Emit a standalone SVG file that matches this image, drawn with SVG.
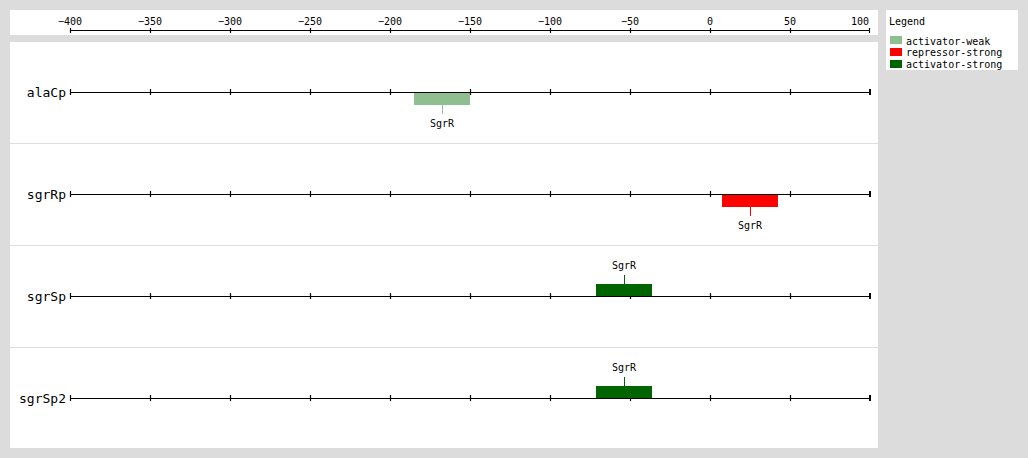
<svg xmlns="http://www.w3.org/2000/svg" width="1028" height="458" viewBox="0 0 1028 458">
<defs>
<style>
.t{font-family:"DejaVu Sans Mono","Liberation Mono",monospace;font-size:10px;fill:#000}
.rl{font-family:"DejaVu Sans Mono","Liberation Mono",monospace;font-size:13px;fill:#000;text-anchor:end}
.ax{stroke:#000;stroke-width:1.2;fill:none}
.sep{stroke:#dedede;stroke-width:1}
.stem{stroke-width:1}
</style>
<g id="ticks">
<path class="ax" d="M70.5,89v6M150.5,89v6M230.5,89v6M310.5,89v6M390.5,89v6M470.5,89v6M550.5,89v6M630.5,89v6M710.5,89v6M790.5,89v6"/>
<path d="M870,89v6" stroke="#000" stroke-width="2"/>
<path class="ax" d="M70.5,92.5H870"/>
</g>
</defs>
<rect width="1028" height="458" fill="#dcdcdc"/>
<rect x="10" y="10" width="868" height="25" fill="#fff"/>
<rect x="10" y="42" width="868" height="406" fill="#fff"/>
<rect x="886" y="10" width="132" height="60" fill="#fff"/>
<g id="axis">
<path class="ax" d="M70.5,30.5H870M70.5,28v5M150.5,28v5M230.5,28v5M310.5,28v5M390.5,28v5M470.5,28v5M550.5,28v5M630.5,28v5M710.5,28v5M790.5,28v5M869.5,28v5"/>
<g class="t" text-anchor="middle">
<text x="70" y="25">−400</text>
<text x="150" y="25">−350</text>
<text x="230" y="25">−300</text>
<text x="310" y="25">−250</text>
<text x="390" y="25">−200</text>
<text x="470" y="25">−150</text>
<text x="550" y="25">−100</text>
<text x="630" y="25">−50</text>
<text x="710" y="25">0</text>
<text x="790" y="25">50</text>
<text x="860" y="25">100</text>
</g>
</g>
<g id="separators">
<path class="sep" d="M10,143.5H878M10,245.5H878M10,347.5H878"/>
</g>
<g id="row-alaCp">
<text class="rl" x="66" y="97">alaCp</text>
<use href="#ticks"/>
</g>
<g id="row-sgrRp">
<text class="rl" x="66" y="199">sgrRp</text>
<use href="#ticks" y="102"/>
</g>
<g id="row-sgrSp">
<text class="rl" x="66" y="301">sgrSp</text>
<use href="#ticks" y="204"/>
</g>
<g id="row-sgrSp2">
<text class="rl" x="66" y="403">sgrSp2</text>
<use href="#ticks" y="306"/>
</g>
<g id="site-alaCp">
<rect x="414" y="93" width="56" height="12" fill="#8fbf8f"/>
<path class="stem" d="M442.5,105V114" stroke="#8fbf8f"/>
<text class="t" x="442" y="127" text-anchor="middle">SgrR</text>
</g>
<g id="site-sgrRp">
<rect x="722" y="195" width="56" height="12" fill="#ff0000"/>
<path class="stem" d="M750.5,207V216" stroke="#ff0000"/>
<text class="t" x="750" y="229" text-anchor="middle">SgrR</text>
</g>
<g id="site-sgrSp">
<rect x="596" y="284" width="56" height="12" fill="#006400"/>
<path class="stem" d="M624.5,284V275" stroke="#006400"/>
<text class="t" x="624" y="269" text-anchor="middle">SgrR</text>
</g>
<g id="site-sgrSp2">
<rect x="596" y="386" width="56" height="12" fill="#006400"/>
<path class="stem" d="M624.5,386V377" stroke="#006400"/>
<text class="t" x="624" y="371" text-anchor="middle">SgrR</text>
</g>
<g id="legend">
<text class="t" x="889" y="25">Legend</text>
<rect x="890" y="36" width="12" height="8" fill="#8fbf8f"/>
<text class="t" x="906" y="45">activator-weak</text>
<rect x="890" y="48" width="12" height="8" fill="#ff0000"/>
<text class="t" x="906" y="56">repressor-strong</text>
<rect x="890" y="60" width="12" height="8" fill="#006400"/>
<text class="t" x="906" y="68">activator-strong</text>
</g>
</svg>
